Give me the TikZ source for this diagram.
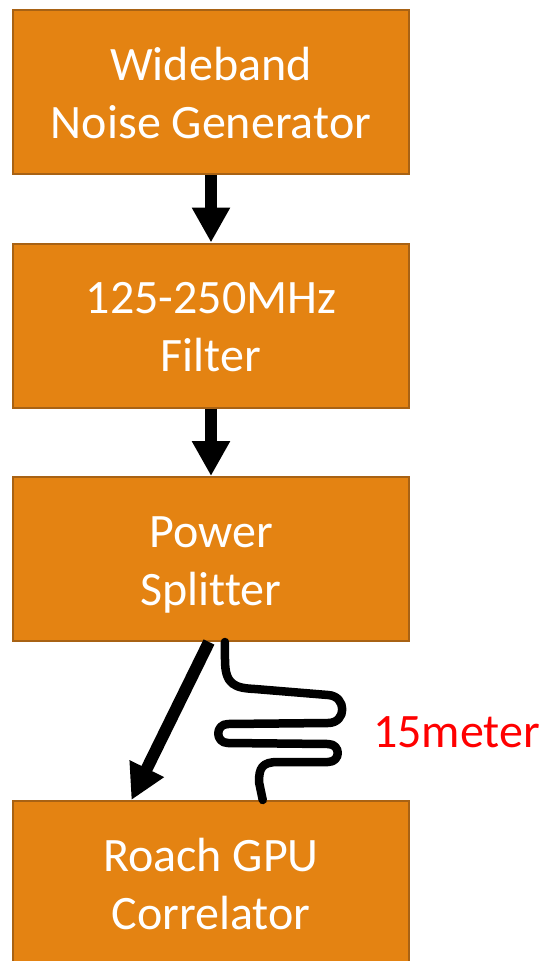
\documentclass[tikz,border=0pt]{standalone}
\usepackage{fontspec}
\setmainfont{Carlito}[Ligatures=NoCommon]
\usetikzlibrary{arrows.meta,calc}

\definecolor{boxfill}{RGB}{228,131,18}
\definecolor{boxedge}{RGB}{168,98,20}
\definecolor{labelred}{RGB}{255,0,0}

\tikzset{
    stagebox/.style={draw=boxedge, fill=boxfill, line width=2pt, minimum width=396pt, minimum height=164pt,
        inner sep=0pt, align=center, text=white, text height=104.6pt, text depth=12pt,
        font=\fontsize{48}{58}\selectfont},
    flowarrow/.style={line width=12pt, -{Triangle[width=36pt,length=35pt]}},
    cable/.style={line width=8.5pt, line cap=round, line join=round}
}

\begin{document}
\begin{tikzpicture}[x=1pt, y=-1pt]
        \useasboundingbox (0,0) rectangle (549,961);

        % Stages
        \node[stagebox] (noisegen) at (211,92) {Wideband\\Noise Generator};
        \node[stagebox] (bandfilter) at (211,325.5) {125-250MHz\\Filter};
        \node[stagebox] (splitter) at (211,559) {Power\\Splitter};
        \node[stagebox] (correlator) at (211,883) {Roach GPU\\Correlator};

        % Signal chain
        \draw[flowarrow] (noisegen) -- (bandfilter);
        \draw[flowarrow] (bandfilter) -- (splitter);
        \draw[flowarrow] ([xshift=-2pt]splitter.south) -- ($(correlator.north west)!0.3!(correlator.north east)$);

        % Long cable to the correlator
        \coordinate (cabletop) at ($(splitter.south west)!0.535!(splitter.south east)$);
        \coordinate (cableend) at ($(correlator.north west)!0.63!(correlator.north east)$);
        \draw[cable] (cabletop) -- (225,660)
            .. controls (225,685) and (235,688) .. (255,689) -- (328,695)
            .. controls (347,696) and (347,723) .. (328,723) -- (228,724)
            .. controls (215,724) and (215,743) .. (228,743) -- (328,744)
            .. controls (341,744) and (341,762) .. (328,762) -- (278,762)
            .. controls (262,762) and (259,768) .. (259,782) -- (cableend);
        \node[anchor=base west, inner sep=0pt, text=labelred, font=\fontsize{48}{58}\selectfont] (cablelength) at (373,747) {15meter};
\end{tikzpicture}
\end{document}
